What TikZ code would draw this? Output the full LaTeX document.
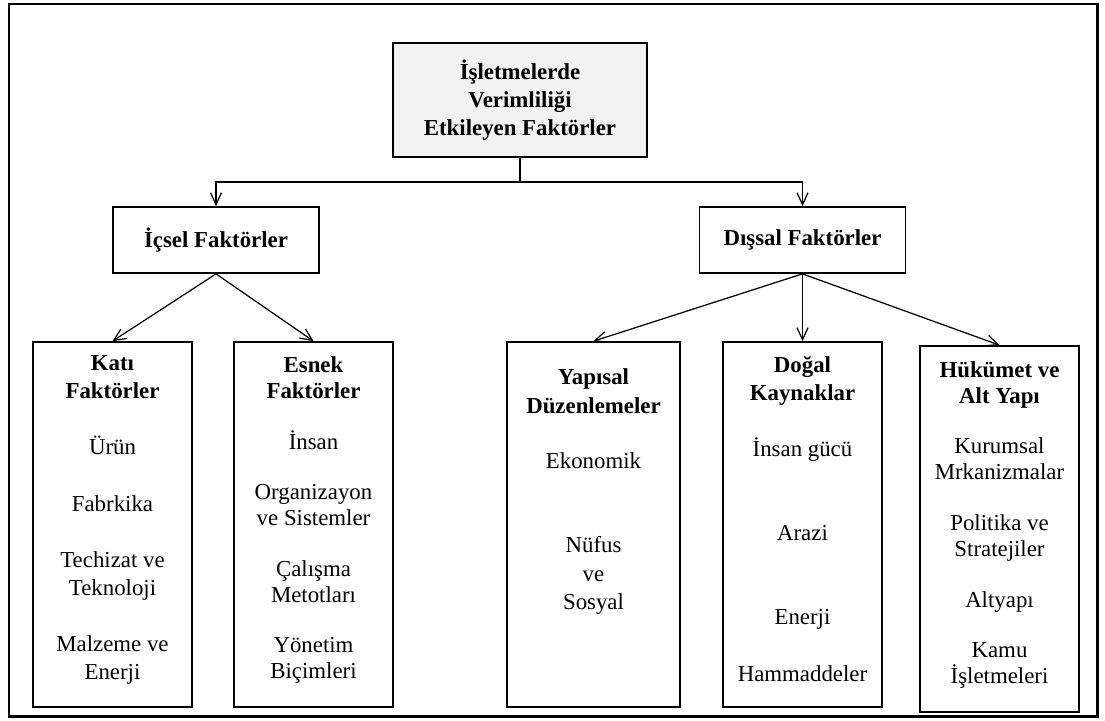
\documentclass[tikz,border=0pt]{standalone}
\usepackage{fontspec}
\setmainfont{Liberation Serif}
\usepackage{xcolor}
\usetikzlibrary{positioning, arrows.meta}

\newcommand{\boxfont}{\fontsize{13pt}{14.8pt}\selectfont}

\begin{document}
\begin{tikzpicture}[
    x=0.02cm, y=-0.02cm,
    font=\boxfont,
    box/.style={rectangle, draw, line width=1pt, align=center, inner sep=0pt},
    headbox/.style={box, fill=black!5, minimum width=5.08cm, minimum height=2.28cm, font=\boxfont\bfseries},
    midbox/.style={box, minimum width=4.12cm, minimum height=1.32cm, font=\boxfont\bfseries},
    colbox/.style={box, minimum width=3.18cm, minimum height=7.3cm},
    coltext/.style={align=center, inner sep=0pt},
    arr/.style={-{Straight Barb[length=2.4mm, width=2.2mm]}, line width=0.7pt},
]
\useasboundingbox (0,0) rectangle (1105,720);
\draw[line width=1.7pt] (9,4) rectangle (1097,716);

% --- Top ---
\node[headbox] (top) at (520,100) {İşletmelerde\\[0.4mm]Verimliliği\\[0.4mm]Etkileyen Faktörler};

% --- Second level ---
\node[midbox] (icsel) at (216,240) {İçsel Faktörler};
\node[midbox] (dissal) at (802.5,240) {Dışsal Faktörler};

% --- Columns ---
\node[colbox] (kati) at (112.5,524.5) {};
\node[coltext, below=2.9mm of kati.north] (katitext) {\textbf{Katı}\\[0.3mm]\textbf{Faktörler}\\[6.1mm]Ürün\\[6.1mm]Fabrkika\\[6.1mm]Techizat ve\\[0.3mm]Teknoloji\\[6.1mm]Malzeme ve\\[0.3mm]Enerji};

\node[colbox] (esnek) at (313.5,524.5) {};
\node[coltext, below=3.1mm of esnek.north] (esnektext) {\textbf{Esnek}\\\textbf{Faktörler}\\[4.9mm]İnsan\\[4.9mm]Organizayon\\ve Sistemler\\[4.9mm]Çalışma\\Metotları\\[4.9mm]Yönetim\\Biçimleri};

\node[colbox, minimum width=3.46cm] (yapisal) at (593.5,524.5) {};
\node[coltext, below=5.5mm of yapisal.north] (yapisaltext) {\textbf{Yapısal}\\[0.6mm]\textbf{Düzenlemeler}\\[5.8mm]Ekonomik\\[11.6mm]Nüfus\\[0.5mm]ve\\[0.5mm]Sosyal};

\node[colbox] (dogal) at (802.5,524.5) {};
\node[coltext, below=2.9mm of dogal.north] (dogaltext) {\textbf{Doğal}\\[0.4mm]\textbf{Kaynaklar}\\[6mm]İnsan gücü\\[11.6mm]Arazi\\[11.6mm]Enerji\\[6.2mm]Hammaddeler};

\node[colbox, minimum height=7.32cm] (hukumet) at (999.5,529) {};
\node[coltext, below=3.3mm of hukumet.north] (hukumettext) {\textbf{Hükümet ve}\\\textbf{Alt Yapı}\\[4.8mm]Kurumsal\\Mrkanizmalar\\[5mm]Politika ve\\Stratejiler\\[5mm]Altyapı\\[4.8mm]Kamu\\İşletmeleri};

% --- Arrows ---
\coordinate (split) at (520,182);
\draw[line width=0.7pt] (top.south) -- (split);
\draw[arr] (split) -| (icsel.north);
\draw[arr] (split) -| (dissal.north);
\draw[arr] (icsel.south) -- (kati.north);
\draw[arr] (icsel.south) -- (esnek.north);
\draw[arr] (dissal.south) -- (yapisal.north);
\draw[arr] (dissal.south) -- (dogal.north);
\draw[arr] (dissal.south) -- (hukumet.north);
\end{tikzpicture}
\end{document}
